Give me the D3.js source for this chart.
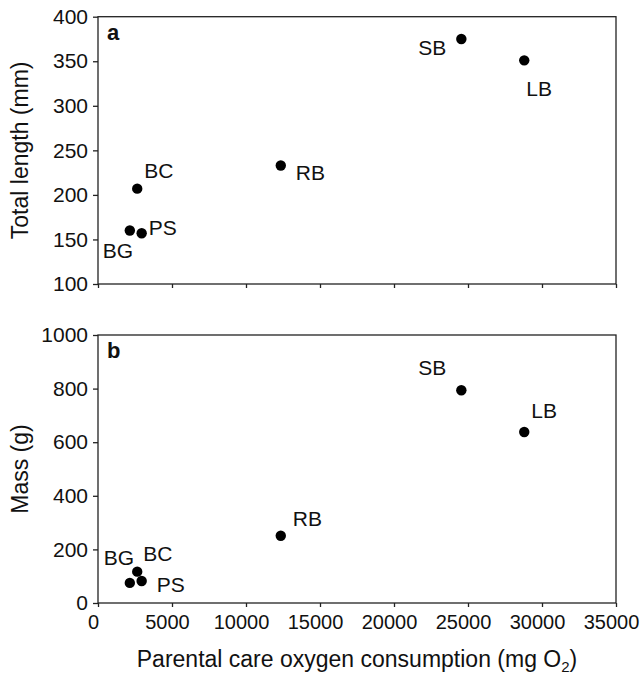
<!DOCTYPE html>
<html>
<head>
<meta charset="utf-8">
<script src="https://cdn.jsdelivr.net/npm/d3@7"></script>
<style>
  body { margin: 0; background: #fff; }
  svg text { font-family: "Liberation Sans", Arial, sans-serif; fill: #111; }
</style>
</head>
<body>
<svg id="chart" width="644" height="676"></svg>
<script>
// species codes and parental care oxygen consumption (mg O2)
const species = ['BG', 'BC', 'PS', 'RB', 'SB', 'LB'];
const oxygen = [2150, 2650, 2950, 12350, 24550, 28800];
// panel a: total length (mm), panel b: mass (g)
const totalLength = [160, 207, 157, 233, 375, 351];
const mass = [75, 117, 82, 251, 794, 638];

const xTicks = [0, 5000, 10000, 15000, 20000, 25000, 30000, 35000];
const lengthTicks = [100, 150, 200, 250, 300, 350, 400];
const massTicks = [0, 200, 400, 600, 800, 1000];

// label offsets from the point, [dx, dy, anchor]
const labelPosA = {
    BG: [-27, 27, 'start'], BC: [7, -11, 'start'], PS: [7, 2, 'start'],
    RB: [15, 15, 'start'], SB: [-15, 16, 'end'], LB: [2, 36, 'start']
};
const labelPosB = {
    BG: [-26, -18, 'start'], BC: [6, -11, 'start'], PS: [15, 11, 'start'],
    RB: [12, -10, 'start'], SB: [-15, -15, 'end'], LB: [7, -14, 'start']
};

const svg = d3.select('#chart');
const left = 98, right = 616;
const ink = '#222';

const x = d3.scaleLinear().domain([0, 35000]).range([left, right]);

function drawPanel(opts) {
    const { top, bottom, values, yDomain, yTicks, letter, title, labelPos, showX } = opts;
    const y = d3.scaleLinear().domain(yDomain).range([bottom, top]);
    const g = svg.append('g');

    // frame
    g.append('rect')
    .attr('x', left)
    .attr('y', top)
    .attr('width', right - left)
    .attr('height', bottom - top)
    .attr('fill', 'none')
    .attr('stroke', ink)
    .attr('stroke-width', 1.3);

    const yAxis = g.append('g')
    .attr('transform', 'translate(' + left + ',0)')
    .call(d3.axisLeft(y).tickValues(yTicks).tickSize(5).tickPadding(5).tickFormat(d3.format('d')));
    yAxis.select('.domain').remove();
    yAxis.selectAll('line').attr('stroke', ink).attr('stroke-width', 1.3);
    yAxis.selectAll('text').style('font-size', '21px').attr('fill', '#111');

    const xAxis = g.append('g')
    .attr('transform', 'translate(0,' + bottom + ')')
    .call(d3.axisBottom(x).tickValues(xTicks).tickSize(4).tickPadding(8).tickFormat(showX ? d3.format('d') : ''));
    xAxis.select('.domain').remove();
    xAxis.selectAll('line').attr('stroke', ink).attr('stroke-width', 1.3);
    // labels sit a little left of their ticks in the original
    xAxis.selectAll('text').style('font-size', '20px').attr('fill', '#111').attr('dx', -5);

    g.append('text')
    .attr('x', left + 9)
    .attr('y', top + 23)
    .style('font-size', '22px')
    .style('font-weight', 'bold')
    .text(letter);

    g.append('text')
    .attr('transform', 'translate(28,' + ((top + bottom) / 2) + ') rotate(-90)')
    .attr('text-anchor', 'middle')
    .style('font-size', '23px')
    .text(title);

    g.selectAll('circle')
    .data(species)
    .enter()
    .append('circle')
    .attr('cx', (d, i) => x(oxygen[i]))
    .attr('cy', (d, i) => y(values[i]))
    .attr('r', 5.2)
    .attr('fill', '#000');

    g.selectAll('.lbl')
    .data(species)
    .enter()
    .append('text')
    .attr('class', 'lbl')
    .attr('x', (d, i) => x(oxygen[i]) + labelPos[d][0])
    .attr('y', (d, i) => y(values[i]) + labelPos[d][1])
    .attr('text-anchor', d => labelPos[d][2])
    .style('font-size', '21px')
    .text(d => d);
}

drawPanel({
    top: 16.7, bottom: 284, values: totalLength, yDomain: [100, 400], yTicks: lengthTicks,
    letter: 'a', title: 'Total length (mm)', labelPos: labelPosA, showX: false
});
drawPanel({
    top: 335, bottom: 603, values: mass, yDomain: [0, 1000], yTicks: massTicks,
    letter: 'b', title: 'Mass (g)', labelPos: labelPosB, showX: true
});

// x axis title with subscript
const xt = svg.append('text')
.attr('x', (left + right) / 2)
.attr('y', 667)
.attr('text-anchor', 'middle')
.style('font-size', '23px');
xt.append('tspan').text('Parental care oxygen consumption (mg O');
xt.append('tspan').attr('dy', 5).style('font-size', '15px').text('2');
xt.append('tspan').attr('dy', -5).text(')');
</script>
</body>
</html>
